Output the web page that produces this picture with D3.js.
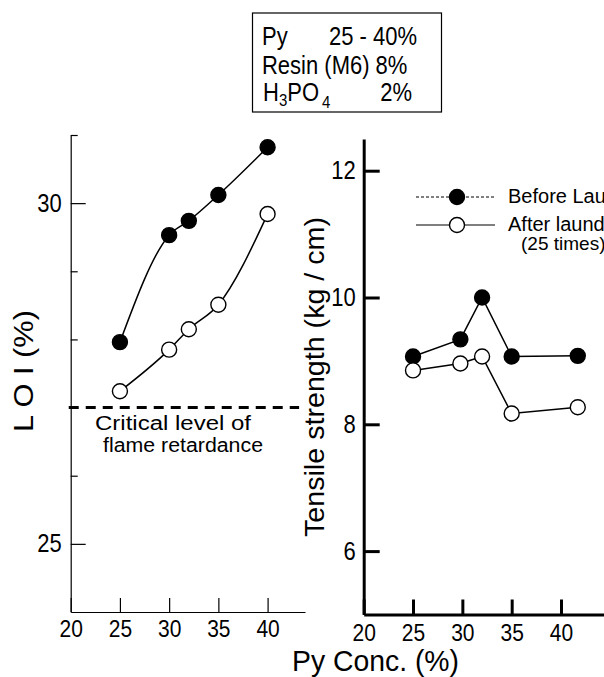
<!DOCTYPE html>
<html>
<head>
<meta charset="utf-8">
<script src="https://cdn.jsdelivr.net/npm/d3@7"></script>
<style>
  body { margin: 0; background: #fff; }
  svg { display: block; }
  text { font-family: "Liberation Sans", Arial, Helvetica, sans-serif; fill: #000; }
</style>
</head>
<body>
<svg id="chart" width="604" height="677"></svg>
<script>
// values
const pyConc = [25, 30, 32, 35, 40];
const loiBefore = [27.96, 29.53, 29.74, 30.12, 30.82];
const loiAfter = [27.24, 27.85, 28.15, 28.51, 29.84];
const criticalLOI = 27;

const tensileConc = [25, 29.8, 32, 35, 41.7];
const tensileBefore = [9.07, 9.34, 10.0, 9.07, 9.08];
const tensileAfter = [8.85, 8.96, 9.07, 8.17, 8.27];

const xTicks = [20, 25, 30, 35, 40];
const loiMajor = [25, 30];
const loiMinor = [26, 27, 28, 29, 31];
const tensileTicks = [6, 8, 10, 12];

const svg = d3.select("#chart");
const SY = 1.15; // the scanned lettering is a little taller than a normal sans

function styleAxis(g, w, fs) {
  g.attr("font-family", null).attr("font-size", fs);
  g.select(".domain").attr("stroke-width", w).attr("stroke", "#000");
  g.selectAll(".tick line").attr("stroke-width", w).attr("stroke", "#000");
  g.selectAll(".tick text").attr("fill", "#000").attr("transform", `scale(1,${SY})`);
}

// plain text at x,y, optionally stretched vertically
function label(x, y, fs, str, anchor, sy) {
  return svg.append("text")
    .attr("transform", `translate(${x},${y}) scale(1,${sy || SY})`)
    .attr("font-size", fs)
    .attr("text-anchor", anchor || "start")
    .text(str);
}

// ---------- left panel: LOI ----------
const xL = d3.scaleLinear().domain([20, 43.8]).range([70.7, 305]);
const yL = d3.scaleLinear().domain([24, 31]).range([612, 135]);

svg.append("g")
  .attr("transform", `translate(0,${yL(24)})`)
  .call(d3.axisBottom(xL).tickValues(xTicks).tickSize(-14).tickSizeOuter(0).tickPadding(7))
  .call(g => styleAxis(g, 1.2, 21));

svg.append("g")
  .attr("transform", `translate(${xL(20)},0)`)
  .call(d3.axisLeft(yL).tickValues(loiMajor).tickSize(-15).tickSizeOuter(0).tickPadding(9).tickFormat(d3.format("d")))
  .call(g => styleAxis(g, 1.2, 22));

svg.append("g")
  .attr("transform", `translate(${xL(20)},0)`)
  .call(d3.axisLeft(yL).tickValues(loiMinor).tickSize(-7).tickSizeOuter(0).tickFormat(""))
  .call(g => styleAxis(g, 1.2, 22))
  .call(g => g.select(".domain").remove());

// critical level
svg.append("line")
  .attr("x1", xL(19.8)).attr("x2", xL(43.2))
  .attr("y1", yL(criticalLOI)).attr("y2", yL(criticalLOI))
  .attr("stroke", "#000").attr("stroke-width", 3).attr("stroke-dasharray", "10,7");

label(95, 430, 20, "Critical level of", "start", 1)
  .attr("textLength", 156).attr("lengthAdjust", "spacingAndGlyphs");
label(103, 452, 20, "flame retardance", "start", 1)
  .attr("textLength", 160).attr("lengthAdjust", "spacingAndGlyphs");

const curveL = d3.line().x(d => xL(d[0])).y(d => yL(d[1])).curve(d3.curveMonotoneX);
const loiSeries = [
  { vals: loiBefore, fill: "#000" },
  { vals: loiAfter, fill: "#fff" }
];
loiSeries.forEach(s => {
  const pts = pyConc.map((c, i) => [c, s.vals[i]]);
  svg.append("path").attr("d", curveL(pts))
    .attr("fill", "none").attr("stroke", "#000").attr("stroke-width", 1.5);
  svg.append("g").selectAll("circle").data(pts).join("circle")
    .attr("cx", d => xL(d[0])).attr("cy", d => yL(d[1])).attr("r", 7.5)
    .attr("fill", s.fill).attr("stroke", "#000").attr("stroke-width", 1.4);
});

svg.append("text")
  .attr("transform", "translate(33,371) rotate(-90)")
  .attr("text-anchor", "middle").attr("font-size", 28)
  .attr("textLength", 122).attr("lengthAdjust", "spacingAndGlyphs")
  .text("L O I  (%)");

// ---------- right panel: tensile strength ----------
const xR = d3.scaleLinear().domain([20, 44.5]).range([363.7, 605.4]);
const yR = d3.scaleLinear().domain([5, 12.5]).range([614.5, 139]);

svg.append("g")
  .attr("transform", `translate(0,${yR(5)})`)
  .call(d3.axisBottom(xR).tickValues(xTicks).tickSize(-15).tickSizeOuter(0).tickPadding(8))
  .call(g => styleAxis(g, 3, 21));

svg.append("g")
  .attr("transform", `translate(${xR(20)},0)`)
  .call(d3.axisLeft(yR).tickValues(tensileTicks).tickSize(-16).tickSizeOuter(0).tickPadding(8))
  .call(g => styleAxis(g, 3, 22));

const lineR = d3.line().x(d => xR(d[0])).y(d => yR(d[1]));
const tensileSeries = [
  { vals: tensileBefore, fill: "#000" },
  { vals: tensileAfter, fill: "#fff" }
];
tensileSeries.forEach(s => {
  const pts = tensileConc.map((c, i) => [c, s.vals[i]]);
  svg.append("path").attr("d", lineR(pts))
    .attr("fill", "none").attr("stroke", "#000").attr("stroke-width", 1.5);
  svg.append("g").selectAll("circle").data(pts).join("circle")
    .attr("cx", d => xR(d[0])).attr("cy", d => yR(d[1])).attr("r", 7.5)
    .attr("fill", s.fill).attr("stroke", "#000").attr("stroke-width", 1.4);
});

svg.append("text")
  .attr("transform", "translate(324,377) rotate(-90)")
  .attr("text-anchor", "middle").attr("font-size", 28)
  .attr("textLength", 320).attr("lengthAdjust", "spacingAndGlyphs")
  .text("Tensile strength (kg / cm)");

// legend
const legend = [
  { label: "Before Laundering", fill: "#000", dash: "3,2", y: 197 },
  { label: "After laundering", fill: "#fff", dash: null, y: 225 }
];
legend.forEach(l => {
  svg.append("line").attr("x1", 416).attr("x2", 495).attr("y1", l.y).attr("y2", l.y)
    .attr("stroke", "#000").attr("stroke-width", 1.2).attr("stroke-dasharray", l.dash);
  svg.append("circle").attr("cx", 457).attr("cy", l.y).attr("r", 7.5)
    .attr("fill", l.fill).attr("stroke", "#000").attr("stroke-width", 1.4);
  label(508, l.y + 6, 20, l.label, "start", 1);
});
label(521, 250, 19, "(25 times)", "start", 1);

// ---------- composition box ----------
svg.append("rect").attr("x", 252.5).attr("y", 13).attr("width", 189).attr("height", 99)
  .attr("fill", "none").attr("stroke", "#000").attr("stroke-width", 1.2);
label(262, 45, 22, "Py");
label(417, 45, 22, "25 - 40%", "end");
label(262, 74, 22, "Resin (M6) 8%");
const h3 = label(263, 101, 22, null);
h3.append("tspan").text("H");
h3.append("tspan").attr("font-size", 15).attr("dy", 4).text("3");
h3.append("tspan").attr("dy", -4).text("PO");
h3.append("tspan").attr("font-size", 15).attr("dy", 6).attr("dx", 3).text("4");
label(412, 101, 22, "2%", "end");

// shared x title
label(292, 671, 25, "Py Conc. (%)")
  .attr("textLength", 167).attr("lengthAdjust", "spacingAndGlyphs");
</script>
</body>
</html>
